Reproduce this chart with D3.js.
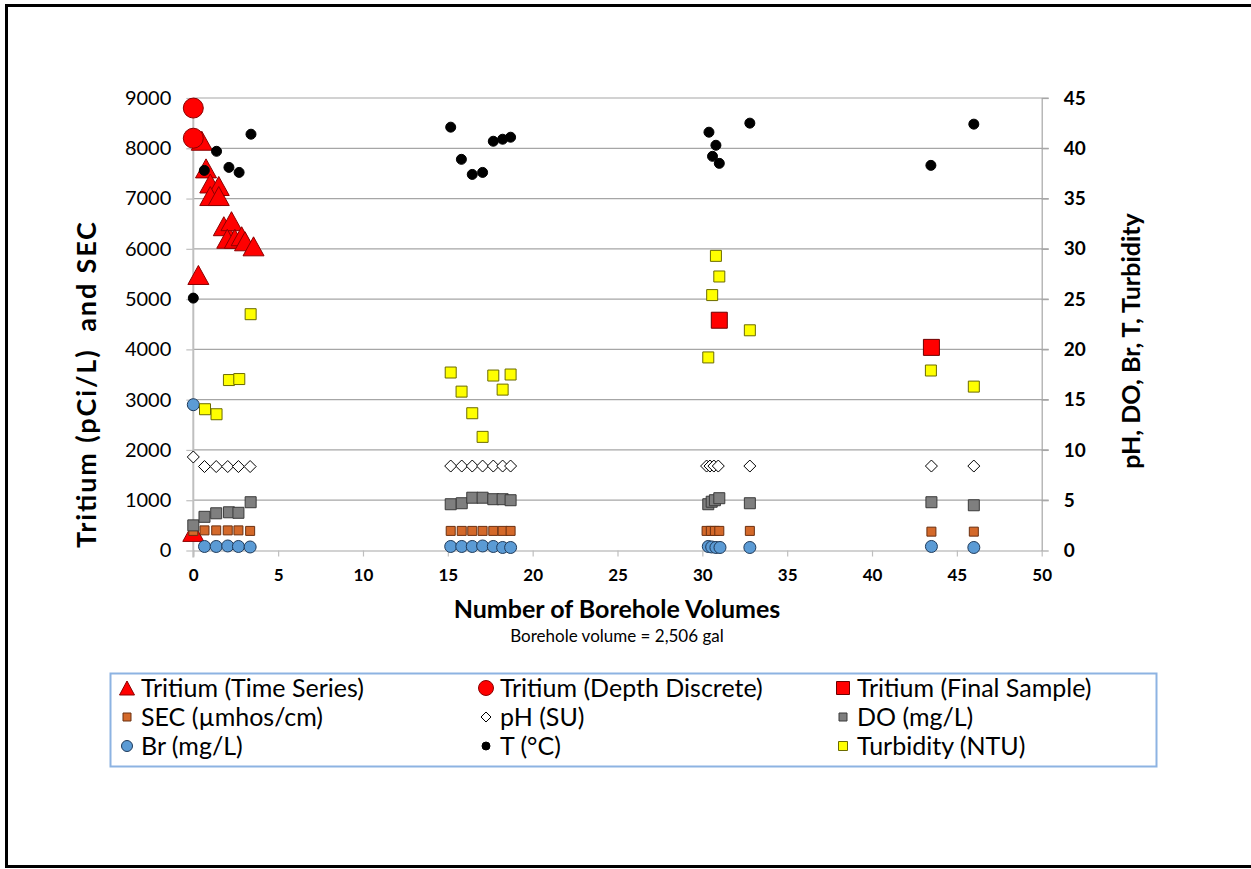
<!DOCTYPE html>
<html>
<head>
<meta charset="utf-8">
<script src="https://cdn.jsdelivr.net/npm/d3@7"></script>
<style>
  body { margin: 0; background: #fff; overflow: hidden; }
  svg { font-family: Lato, "Open Sans", sans-serif; display: block; }
</style>
</head>
<body>
<div id="chart"></div>
<script>
// data (x = number of borehole volumes)
var tritiumTsX = [0.5, 0.75, 1.0, 1.5, 1.0, 1.5, 1.8, 2.25, 2.0, 2.45, 2.85, 3.05, 3.55, 0.3, 0];
var tritiumTsY = [8150, 7600, 7300, 7250, 7050, 7050, 6450, 6550, 6200, 6200, 6250, 6150, 6050, 5480, 370];

var tritiumDdX = [0, 0];
var tritiumDdY = [8800, 8200];

var tritiumFinalX = [31.0, 43.5];
var tritiumFinalY = [4580, 4040];

var secX = [0, 0.66, 1.35, 2.03, 2.66, 3.35, 15.17, 15.82, 16.44, 17.05, 17.68, 18.23, 18.7, 30.25, 30.5, 30.74, 31.0, 32.8, 43.5, 46.0];
var secY = [390, 400, 400, 400, 400, 390, 390, 390, 390, 390, 390, 390, 390, 390, 390, 390, 390, 390, 375, 375];

var phX = [0, 0.66, 1.35, 2.03, 2.66, 3.35, 15.17, 15.82, 16.44, 17.05, 17.68, 18.23, 18.7, 30.25, 30.45, 30.68, 30.94, 32.8, 43.5, 46.0];
var phY = [9.3, 8.35, 8.35, 8.35, 8.35, 8.35, 8.4, 8.4, 8.4, 8.4, 8.4, 8.4, 8.4, 8.4, 8.4, 8.4, 8.4, 8.4, 8.4, 8.4];

var doX = [0, 0.66, 1.35, 2.1, 2.66, 3.38, 15.17, 15.82, 16.44, 17.05, 17.68, 18.23, 18.7, 30.35, 30.55, 30.74, 31.0, 32.8, 43.5, 46.0];
var doY = [2.5, 3.35, 3.7, 3.8, 3.75, 4.8, 4.6, 4.7, 5.25, 5.25, 5.1, 5.1, 5.0, 4.6, 4.85, 5.0, 5.2, 4.7, 4.8, 4.5];

var brX = [0, 0.66, 1.35, 2.03, 2.66, 3.35, 15.17, 15.82, 16.44, 17.05, 17.68, 18.23, 18.7, 30.35, 30.55, 30.8, 31.04, 32.8, 43.5, 46.0];
var brY = [14.5, 0.4, 0.4, 0.45, 0.4, 0.35, 0.4, 0.4, 0.4, 0.45, 0.4, 0.3, 0.3, 0.4, 0.35, 0.3, 0.3, 0.3, 0.4, 0.3];

var tempX = [0, 0.65, 1.37, 2.1, 2.7, 3.4, 15.17, 15.8, 16.44, 17.05, 17.68, 18.23, 18.7, 30.39, 30.6, 30.8, 31.0, 32.8, 43.47, 46.0];
var tempY = [25.1, 37.8, 39.7, 38.1, 37.6, 41.4, 42.1, 38.9, 37.4, 37.6, 40.7, 40.9, 41.1, 41.6, 39.2, 40.3, 38.5, 42.5, 38.3, 42.4];

var turbX = [0.69, 1.37, 2.1, 2.71, 3.38, 15.17, 15.81, 16.44, 17.05, 17.68, 18.23, 18.7, 30.35, 30.58, 30.8, 31.0, 32.8, 43.47, 46.0];
var turbY = [14.05, 13.55, 16.95, 17.05, 23.5, 17.7, 15.8, 13.65, 11.3, 17.4, 16.0, 17.5, 19.2, 25.4, 29.3, 27.25, 21.9, 17.9, 16.3];

var xTicks = d3.range(0, 51, 5);
var leftTicks = d3.range(0, 9001, 1000);
var rightTicks = d3.range(0, 46, 5);

var legendNames = ["Tritium (Time Series)", "Tritium (Depth Discrete)", "Tritium (Final Sample)",
                   "SEC (\u00b5mhos/cm)", "pH (SU)", "DO (mg/L)",
                   "Br (mg/L)", "T (\u00b0C)", "Turbidity (NTU)"];

// svg
var width = 1251, height = 869;
var svg = d3.select("#chart").append("svg")
    .attr("width", width)
    .attr("height", height);

// outer frame, open on the right like the original
svg.append("path")
    .attr("d", "M1251,5.5H6.5V866.5H1251")
    .attr("fill", "none").attr("stroke", "#000").attr("stroke-width", 3);

// scales
var x = d3.scaleLinear().domain([0, 50]).range([193.3, 1041.7]);
var yL = d3.scaleLinear().domain([0, 9000]).range([550.5, 98]);
var yR = d3.scaleLinear().domain([0, 45]).range([550.5, 98]);

// gridlines
svg.append("g").selectAll("line")
    .data(leftTicks.slice(1))
    .enter().append("line")
    .attr("x1", x(0)).attr("x2", x(50) + 7)
    .attr("y1", function(d) { return yL(d); })
    .attr("y2", function(d) { return yL(d); })
    .attr("stroke", "#a6a6a6").attr("stroke-width", 1.2);

// left axis
var leftAxis = svg.append("g")
    .attr("transform", "translate(" + x(0) + ",0)")
    .call(d3.axisLeft(yL).tickValues(leftTicks).tickFormat(d3.format("d"))
        .tickSize(7).tickPadding(15).tickSizeOuter(0));
leftAxis.select(".domain").attr("stroke", "#bfbfbf").attr("stroke-width", 2)
    .attr("d", "M0," + (yL(0) + 7) + "V" + yL(9000));
leftAxis.selectAll(".tick line").attr("stroke", "#bfbfbf").attr("stroke-width", 1.2);
leftAxis.selectAll(".tick text").attr("font-size", 20).attr("fill", "#000")
    .attr("font-family", "Lato, sans-serif");

// right axis
var rightAxis = svg.append("g")
    .attr("transform", "translate(" + x(50) + ",0)")
    .call(d3.axisRight(yR).tickValues(rightTicks).tickSize(7).tickPadding(15).tickSizeOuter(0));
rightAxis.select(".domain").attr("stroke", "#a6a6a6").attr("stroke-width", 1.2);
rightAxis.selectAll(".tick line").attr("stroke", "#a6a6a6").attr("stroke-width", 1.2);
rightAxis.selectAll(".tick text").attr("font-size", 19).attr("font-weight", "bold").attr("fill", "#000")
    .attr("font-family", "Lato, sans-serif");

// bottom axis
var bottomAxis = svg.append("g")
    .attr("transform", "translate(0," + yL(0) + ")")
    .call(d3.axisBottom(x).tickValues(xTicks).tickSize(6).tickPadding(12).tickSizeOuter(0));
bottomAxis.select(".domain").attr("stroke", "#a6a6a6").attr("stroke-width", 1.2);
bottomAxis.selectAll(".tick line").attr("stroke", "#bfbfbf").attr("stroke-width", 1.2);
bottomAxis.selectAll(".tick text").attr("font-size", 17).attr("font-weight", "bold").attr("fill", "#000")
    .attr("font-family", "Lato, sans-serif");

// axis titles
svg.append("text")
    .attr("transform", "translate(96,385) rotate(-90)")
    .attr("text-anchor", "middle")
    .attr("font-size", 27).attr("font-weight", "bold")
    .attr("textLength", 326).attr("lengthAdjust", "spacing")
    .style("white-space", "pre")
    .text("Tritium (pCi/L)  and SEC");
svg.append("text")
    .attr("transform", "translate(1140,341) rotate(-90)")
    .attr("text-anchor", "middle")
    .attr("font-size", 25).attr("font-weight", "bold")
    .text("pH, DO, Br, T, Turbidity");
svg.append("text")
    .attr("x", 617).attr("y", 618)
    .attr("text-anchor", "middle")
    .attr("font-size", 25).attr("font-weight", "bold")
    .text("Number of Borehole Volumes");
svg.append("text")
    .attr("x", 617).attr("y", 642)
    .attr("text-anchor", "middle")
    .attr("font-size", 17)
    .text("Borehole volume = 2,506 gal");

// marker shapes
function triPath(w, h) {
    return "M0," + (-h / 2) + "L" + (w / 2) + "," + (h / 2) + "L" + (-w / 2) + "," + (h / 2) + "Z";
}
function squarePath(s) {
    return "M" + (-s / 2) + "," + (-s / 2) + "h" + s + "v" + s + "h" + (-s) + "Z";
}
function circlePath(r) {
    return "M" + r + ",0A" + r + "," + r + " 0 1,1 " + (-r) + ",0A" + r + "," + r + " 0 1,1 " + r + ",0Z";
}
function diamondPath(r) {
    return "M0," + (-r) + "L" + r + ",0L0," + r + "L" + (-r) + ",0Z";
}

// series in legend order: shape for plot, shape for legend, style
var series = [
    { xs: tritiumTsX, ys: tritiumTsY, axis: yL, d: triPath(21, 19), ld: triPath(15, 14), fill: "#ff0000", stroke: "#8b0000" },
    { xs: tritiumDdX, ys: tritiumDdY, axis: yL, d: circlePath(10), ld: circlePath(7.5), fill: "#ff0000", stroke: "#8b0000" },
    { xs: tritiumFinalX, ys: tritiumFinalY, axis: yL, d: squarePath(16), ld: squarePath(13), fill: "#ff0000", stroke: "#6b0000" },
    { xs: secX, ys: secY, axis: yL, d: squarePath(9), ld: squarePath(8), fill: "#d4692a", stroke: "#6b3010" },
    { xs: phX, ys: phY, axis: yR, d: diamondPath(6), ld: diamondPath(5), fill: "#ffffff", stroke: "#000000" },
    { xs: doX, ys: doY, axis: yR, d: squarePath(11), ld: squarePath(8), fill: "#7f7f7f", stroke: "#3a3a3a" },
    { xs: brX, ys: brY, axis: yR, d: circlePath(6), ld: circlePath(5.5), fill: "#5b9bd5", stroke: "#1f3a5a" },
    { xs: tempX, ys: tempY, axis: yR, d: circlePath(5), ld: circlePath(4), fill: "#000000", stroke: "#000000" },
    { xs: turbX, ys: turbY, axis: yR, d: squarePath(11), ld: squarePath(9), fill: "#ffff00", stroke: "#6b6b00" }
];

var marks = svg.append("g");
series.forEach(function(s) {
    marks.append("g").selectAll("path")
        .data(s.xs)
        .enter().append("path")
        .attr("d", s.d)
        .attr("transform", function(d, i) {
            return "translate(" + x(d) + "," + s.axis(s.ys[i]) + ")";
        })
        .attr("fill", s.fill)
        .attr("stroke", s.stroke)
        .attr("stroke-width", 1);
});

// legend
var legend = svg.append("g");
legend.append("rect")
    .attr("x", 110.5).attr("y", 673.5)
    .attr("width", 1046).attr("height", 93)
    .attr("fill", "#fff").attr("stroke", "#8db3e2").attr("stroke-width", 2);

var colX = [127, 486, 843];
var rowY = [688, 717, 746];
legendNames.forEach(function(name, i) {
    var cx = colX[i % 3], cy = rowY[Math.floor(i / 3)];
    legend.append("path")
        .attr("d", series[i].ld)
        .attr("transform", "translate(" + cx + "," + cy + ")")
        .attr("fill", series[i].fill)
        .attr("stroke", series[i].stroke)
        .attr("stroke-width", 1);
    legend.append("text")
        .attr("x", cx + 14).attr("y", cy)
        .attr("dy", "0.35em")
        .attr("font-size", 25)
        .text(name);
});
</script>
</body>
</html>
